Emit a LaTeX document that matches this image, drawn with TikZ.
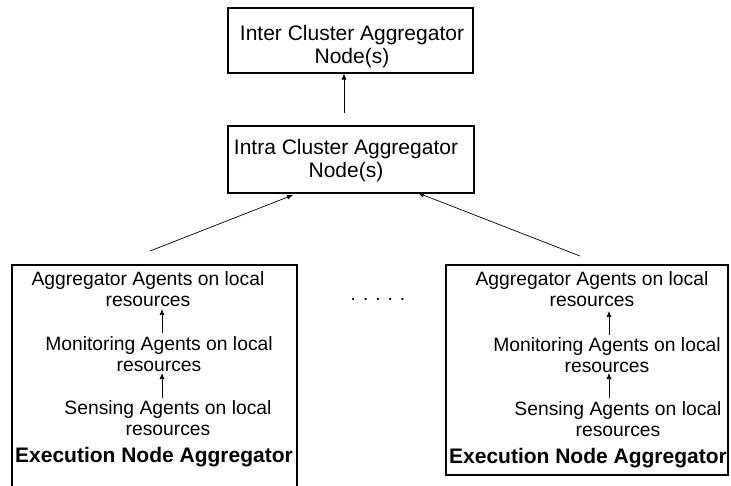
\documentclass[tikz,border=0pt]{standalone}
\usepackage{fontspec}
\setmainfont{Liberation Sans}
\usetikzlibrary{arrows.meta}
\begin{document}
\begin{tikzpicture}[x=1pt,y=-1pt,
  box/.style={draw, line width=1.1pt, inner sep=0pt},
  txt/.style={align=center, inner sep=0pt, font=\fontsize{19.3}{21}\selectfont},
  toptxt/.style={align=center, inner sep=0pt, font=\fontsize{21}{23}\selectfont},
  boldtxt/.style={inner sep=0pt, font=\fontsize{21}{23}\selectfont\bfseries},
  arr/.style={line width=0.7pt, -{Latex[length=6pt,width=5pt]}}]
\useasboundingbox (0,0) rectangle (731,486);

% upper aggregation boxes
\node[box, minimum width=245pt, minimum height=65pt] (inter) at (350.5,40.5) {};
\node[toptxt] (intertxt) at (352,46.5) {Inter Cluster Aggregator\\Node(s)};
\node[box, minimum width=246pt, minimum height=67pt] (intra) at (351,159.5) {};
\node[toptxt] (intratxt) at (346,160.5) {Intra Cluster Aggregator\\Node(s)};

% execution node aggregators
\draw[line width=1.1pt] (12,265) rectangle (297,495);
\draw[line width=1.1pt] (446,265) rectangle (728,475);

% left execution node
\node[txt] (aggL) at (148,289.5) {Aggregator Agents on local\\resources};
\node[txt] (monL) at (159,354.5) {Monitoring Agents on local\\resources};
\node[txt] (senL) at (168,418.5) {Sensing Agents on local\\resources};
\node[boldtxt] (exeL) at (154,457) {Execution Node Aggregator};

% right execution node
\node[txt] (aggR) at (592,289.5) {Aggregator Agents on local\\resources};
\node[txt] (monR) at (607,355) {Monitoring Agents on local\\resources};
\node[txt] (senR) at (618,419.5) {Sensing Agents on local\\resources};
\node[boldtxt] (exeR) at (588,458) {Execution Node Aggregator};

\node[font=\fontsize{19}{21}\selectfont, inner sep=0pt] (dots) at (378,299) {. . . . .};

% connector end points
\coordinate (upS) at (344,113);
\coordinate (lS) at (150,251);
\coordinate (lE) at (293,195);
\coordinate (rS) at (580,256);
\coordinate (rE) at (418,193);
\coordinate (l1S) at (162,333);
\coordinate (l1E) at (162,309);
\coordinate (l2S) at (162,398);
\coordinate (l2E) at (162,373);
\coordinate (r1S) at (609,335);
\coordinate (r1E) at (609,311);
\coordinate (r2S) at (609,398);
\coordinate (r2E) at (609,373);

\draw[arr] (upS) -- (upS |- inter.south);
\draw[arr] (lS) -- (lE);
\draw[arr] (rS) -- (rE);
\draw[arr] (l1S) -- (l1E);
\draw[arr] (l2S) -- (l2E);
\draw[arr] (r1S) -- (r1E);
\draw[arr] (r2S) -- (r2E);
\end{tikzpicture}
\end{document}
